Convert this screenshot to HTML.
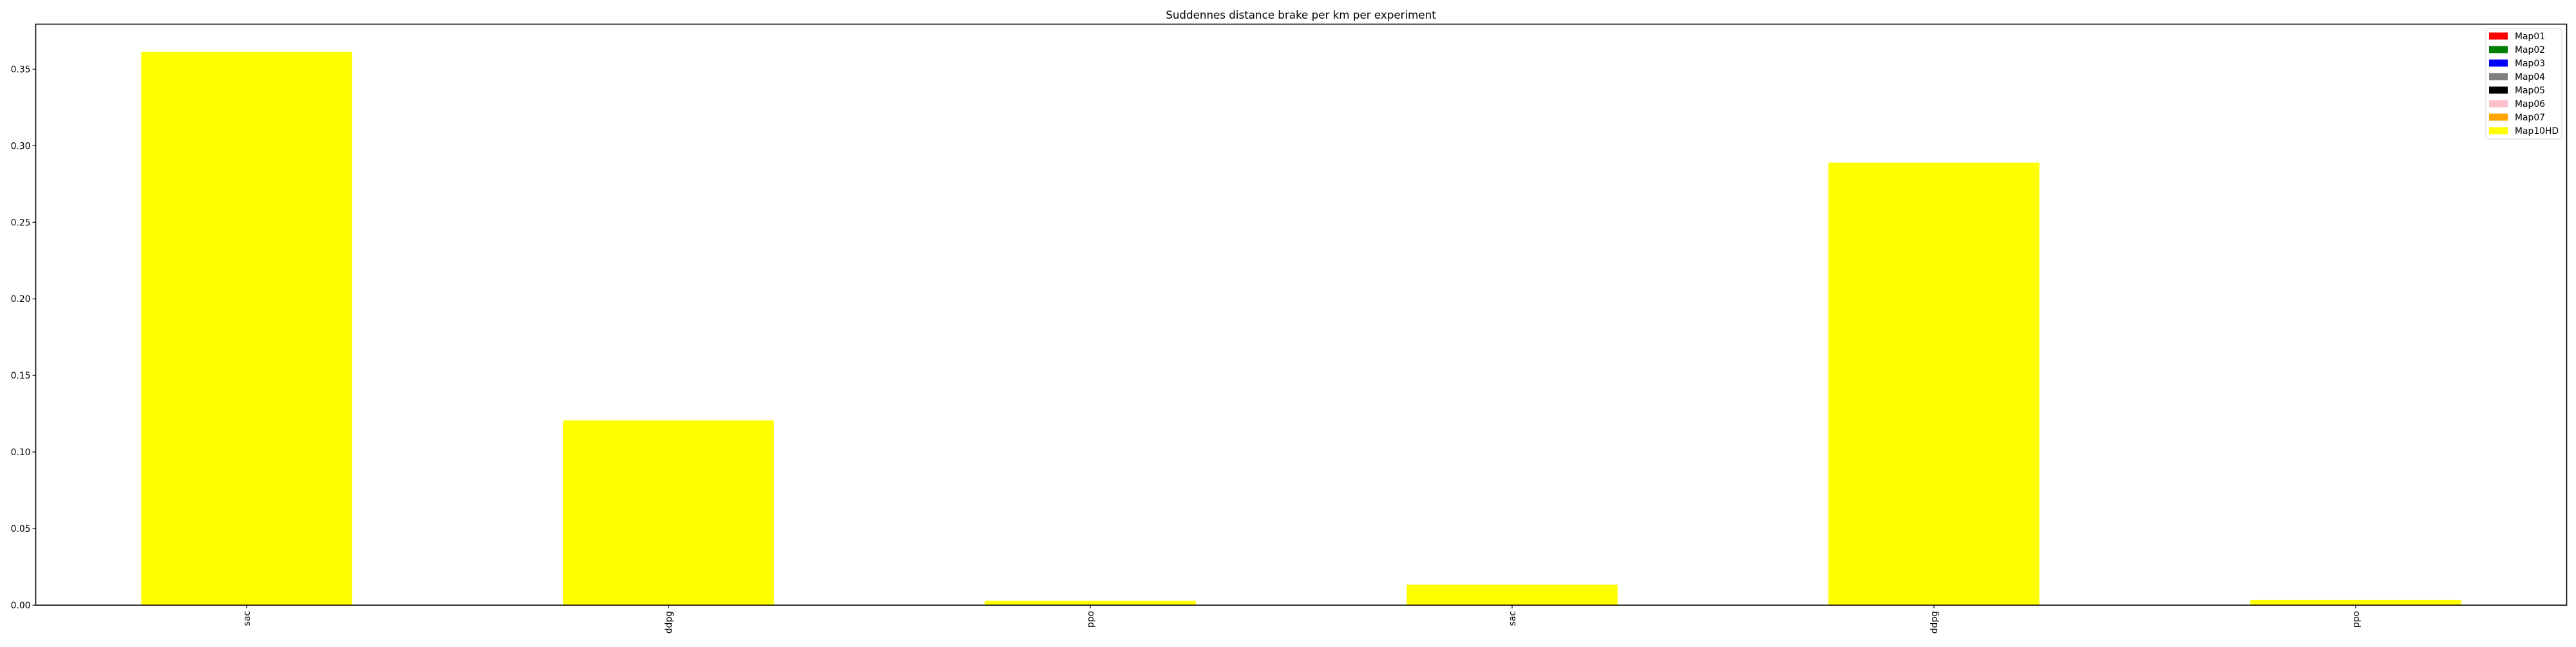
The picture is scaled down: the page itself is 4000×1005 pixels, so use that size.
<!DOCTYPE html>
<html><head><meta charset="utf-8"><style>
html,body{margin:0;padding:0;background:#fff}
svg text{font-family:"DejaVu Sans","Liberation Sans",sans-serif;fill:#000}
</style></head><body>
<svg id="chart" width="4000" height="1000" xmlns="http://www.w3.org/2000/svg">
<rect width="4000" height="1000" fill="#fff"/>
<text x="2020" y="29" font-size="16.7" text-anchor="middle">Suddennes distance brake per km per experiment</text>
<g id="bars"></g>
<g id="yaxis"></g>
<g id="xaxis"></g>
<rect x="55.5" y="37.5" width="3930" height="902.5" fill="none" stroke="#000" stroke-width="1.6"/>
<g id="legend"></g>
</svg>
<script>
const categories = ["sac","ddpg","ppo","sac","ddpg","ppo"];
const map10hdValues = [0.3613, 0.1206, 0.0029, 0.0134, 0.289, 0.0034];
const yTicks = [0.00,0.05,0.10,0.15,0.20,0.25,0.30,0.35];
const legendLabels = ["Map01","Map02","Map03","Map04","Map05","Map06","Map07","Map10HD"];
const legendColors = ["#ff0000","#008000","#0000ff","#808080","#000000","#ffc0cb","#ffa500","#ffff00"];

const NS="http://www.w3.org/2000/svg";
const L=55.5,R=3985.5,T=37.5,B=940,yMax=0.3794;
const n=categories.length, step=(R-L)/n;
const xPos=i=>L+step*(i+0.5);
const yPos=v=>B-(v/yMax)*(B-T);
function mk(tag,attrs,parent){const e=document.createElementNS(NS,tag);for(const k in attrs)e.setAttribute(k,attrs[k]);parent.appendChild(e);return e;}
const bars=document.getElementById('bars');
map10hdValues.forEach((v,i)=>{
  const w=step*0.5;
  const r=mk('rect',{x:xPos(i)-w/2,y:yPos(v),width:w,height:B-yPos(v),fill:'#ffff00'},bars);
  
  
});
const ya=document.getElementById('yaxis');
yTicks.forEach(t=>{
  const y=yPos(t);
  const ln=mk('line',{x1:L-5,x2:L,y1:y,y2:y,stroke:'#000','stroke-width':1.2},ya);
  
  
  const tx=mk('text',{x:L-8,y:y+5,'font-size':13.9,'text-anchor':'end'},ya);
  tx.textContent=t.toFixed(2);
  
  
});
const xa=document.getElementById('xaxis');
categories.forEach((c,i)=>{
  const x=xPos(i);
  const ln=mk('line',{x1:x,x2:x,y1:B,y2:B+5,stroke:'#000','stroke-width':1.2},xa);
  
  
  const tx=mk('text',{x:0,y:0,'font-size':13.9,'text-anchor':'end',transform:`translate(${x+5},${B+9}) rotate(-90)`},xa);
  tx.textContent=c;
  
  
});
const lg=document.getElementById('legend');
const box=mk('rect',{x:3860,y:44,width:118,height:172,rx:3,fill:'#fff',stroke:'#d6d6d6','stroke-width':1},lg);


legendLabels.forEach((lab,i)=>{
  const cy=56+i*21;
  const p=mk('rect',{x:3865,y:cy-5.5,width:29,height:11,fill:legendColors[i]},lg);
  
  
  const t=mk('text',{x:3905,y:cy+5,'font-size':13.9},lg);
  t.textContent=lab;
  
  
});
</script>
</body></html>
